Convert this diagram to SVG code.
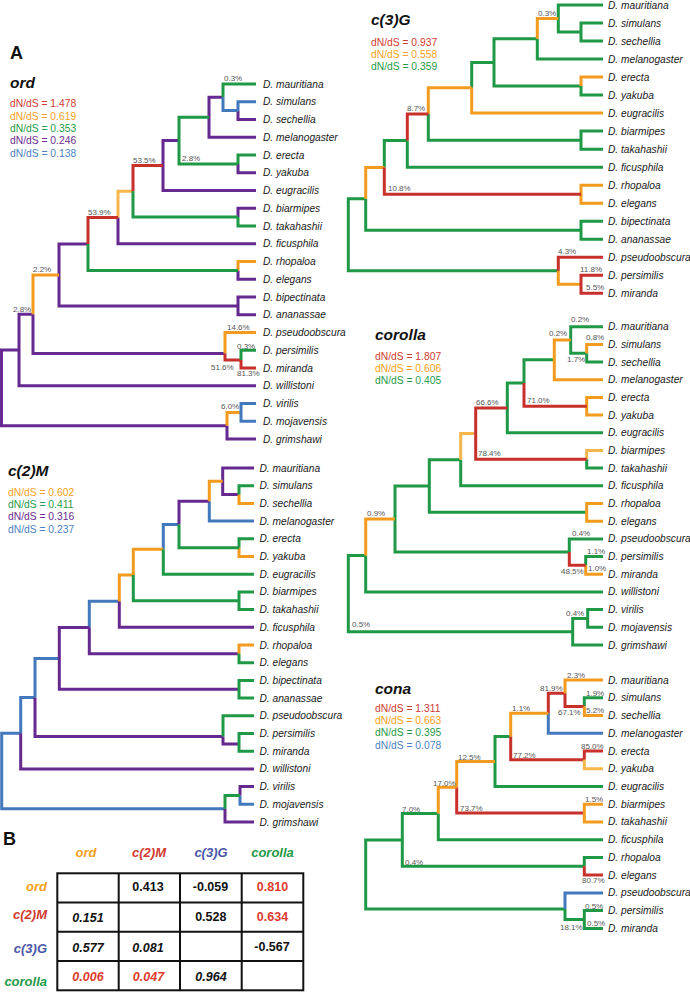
<svg xmlns="http://www.w3.org/2000/svg" width="690" height="992" viewBox="0 0 690 992">
<style>
.bg{fill:#fff}
.b{fill:none;stroke-width:3;stroke-linejoin:miter;stroke-linecap:butt}
.r{stroke:#c8302c}.o{stroke:#f39b1f}.lo{stroke:#f7b64c}.g{stroke:#1f9946}.p{stroke:#66298f}.bl{stroke:#4279bd}
text{font-family:"Liberation Sans",Arial,Helvetica,sans-serif}
.sp{font-size:10.2px;font-style:italic;fill:#1a1a1a}
.pc{font-size:8px;fill:#555}
.ti{font-size:15.5px;font-weight:bold;font-style:italic;fill:#111}
.pl{font-size:18px;font-weight:bold;fill:#111}
.lg{font-size:10.3px}
.tr{fill:#cf3a30}.to{fill:#f5a020}.tg{fill:#1f9a48}.tp{fill:#6b2c91}.tb{fill:#4a82c2}.ts{fill:#4c56a8}
.th{font-size:13px;font-weight:bold;font-style:italic}
.tv{font-size:12.5px;font-weight:bold;fill:#111;text-anchor:middle}
.it{font-style:italic}
.rv{fill:#e03a2e}
.grid{fill:none;stroke:#111;stroke-width:2}
</style>
<rect class="bg" x="0" y="0" width="690" height="992"/>

<text class="pl" x="10" y="59.3">A</text>
<text class="pl" x="3" y="845">B</text>

<!-- ================= ord ================= -->
<g id="ord-legend">
<text class="ti" x="10" y="87.5">ord</text>
<text class="lg tr" x="10" y="107.3">dN/dS = 1.478</text>
<text class="lg to" x="10" y="119.7">dN/dS = 0.619</text>
<text class="lg tg" x="10" y="132">dN/dS = 0.353</text>
<text class="lg tp" x="10" y="144.3">dN/dS = 0.246</text>
<text class="lg tb" x="10" y="156.7">dN/dS = 0.138</text>
</g>
<g id="ord-connectors">
<path class="b p" d="M1.5 387.9V350H19M1.5 387.9V425.7H227M19 350V314.2H33M19 350V385.75H256M33 314.2V353.5H225M59 275V244H88M59 275V305.9H238M238 305.9V297H256M238 305.9V314.75H256M238 270.4V279.25H256M118 217.5V243.75H256M238 217.1V208.25H256M163 165.5V140.6H179M163 165.5V190.5H256M238 163.9V172.75H256M209 117.3V97.3H223M209 117.3V137.25H256M238 110.6V119.5H256M227 425.7V439H256"/>
<path class="b o" d="M33 314.2V275H59M238 270.4V261.5H256M225 353.5V332.5H256M227 425.7V412.4H241"/>
<path class="b lo" d="M118 217.5V191.3H133"/>
<path class="b r" d="M88 244V217.5H118M133 191.3V165.5H163M225 353.5V360H241M241 360V368H256"/>
<path class="b g" d="M88 244V270.4H238M133 191.3V217.1H238M238 217.1V226H256M179 140.6V117.3H209M179 140.6V163.9H238M238 163.9V155H256M223 97.3V84H256M241 360V350.25H256"/>
<path class="b bl" d="M223 97.3V110.6H238M238 110.6V101.75H256M241 412.4V403.5H256M241 412.4V421.25H256"/>
</g>
<g id="ord-branch-labels">
<text class="pc" x="224" y="81">0.3%</text>
<text class="pc" x="182" y="161">2.8%</text>
<text class="pc" x="133" y="162.5">53.5%</text>
<text class="pc" x="88" y="215">53.9%</text>
<text class="pc" x="33" y="272">2.2%</text>
<text class="pc" x="13" y="311.5">2.8%</text>
<text class="pc" x="227" y="330">14.6%</text>
<text class="pc" x="237" y="348.5">0.3%</text>
<text class="pc" x="211" y="370">51.6%</text>
<text class="pc" x="237" y="376">81.3%</text>
<text class="pc" x="221" y="408.5">6.0%</text>
</g>
<g id="ord-leaves">
<g id="ord-mauritiana"><text class="sp" x="263" y="87.5">D. mauritiana</text></g>
<g id="ord-simulans"><text class="sp" x="263" y="105.25">D. simulans</text></g>
<g id="ord-sechellia"><text class="sp" x="263" y="123">D. sechellia</text></g>
<g id="ord-melanogaster"><text class="sp" x="263" y="140.75">D. melanogaster</text></g>
<g id="ord-erecta"><text class="sp" x="263" y="158.5">D. erecta</text></g>
<g id="ord-yakuba"><text class="sp" x="263" y="176.25">D. yakuba</text></g>
<g id="ord-eugracilis"><text class="sp" x="263" y="194">D. eugracilis</text></g>
<g id="ord-biarmipes"><text class="sp" x="263" y="211.75">D. biarmipes</text></g>
<g id="ord-takahashii"><text class="sp" x="263" y="229.5">D. takahashii</text></g>
<g id="ord-ficusphila"><text class="sp" x="263" y="247.25">D. ficusphila</text></g>
<g id="ord-rhopaloa"><text class="sp" x="263" y="265">D. rhopaloa</text></g>
<g id="ord-elegans"><text class="sp" x="263" y="282.75">D. elegans</text></g>
<g id="ord-bipectinata"><text class="sp" x="263" y="300.5">D. bipectinata</text></g>
<g id="ord-ananassae"><text class="sp" x="263" y="318.25">D. ananassae</text></g>
<g id="ord-pseudoobscura"><text class="sp" x="263" y="336">D. pseudoobscura</text></g>
<g id="ord-persimilis"><text class="sp" x="263" y="353.75">D. persimilis</text></g>
<g id="ord-miranda"><text class="sp" x="263" y="371.5">D. miranda</text></g>
<g id="ord-willistoni"><text class="sp" x="263" y="389.25">D. willistoni</text></g>
<g id="ord-virilis"><text class="sp" x="263" y="407">D. virilis</text></g>
<g id="ord-mojavensis"><text class="sp" x="263" y="424.75">D. mojavensis</text></g>
<g id="ord-grimshawi"><text class="sp" x="263" y="442.5">D. grimshawi</text></g>
</g>

<!-- ================= c(2)M ================= -->
<g id="c2m-legend">
<text class="ti" x="8" y="475.5">c(2)M</text>
<text class="lg to" x="8" y="496.3">dN/dS = 0.602</text>
<text class="lg tg" x="8" y="508.3">dN/dS = 0.411</text>
<text class="lg tp" x="8" y="520.3">dN/dS = 0.316</text>
<text class="lg tb" x="8" y="532.7">dN/dS = 0.237</text>
</g>
<g id="c2m-connectors">
<path class="b bl" d="M1.7 771V733.2H20.7M1.7 771V808.7H225M20.7 733.2V697.5H35M35 697.5V658.4H59.3M89.3 627.5V601.2H119.3M163.3 549.3V524.4H179M209.3 501.2V521.1H254M240 795.45V804.3H254"/>
<path class="b p" d="M20.7 733.2V768.9H254M35 697.5V736.5H223M59.3 658.4V627.5H89.3M59.3 658.4V689.25H239M89.3 627.5V653.85H239M119.3 601.2V627.3H254M179 524.4V501.2H209.3M222.7 481.3V468H254M222.7 481.3V494.55H239M223 736.5V744H239M225 808.7V822H254M240 795.45V786.6H254"/>
<path class="b o" d="M119.3 601.2V575H133.3M133.3 575V549.3H163.3M209.3 501.2V481.3H222.7M239 494.55V503.4H254M239 547.65V556.5H254M239 653.85V645H254"/>
<path class="b g" d="M133.3 575V600.75H239M239 600.75V591.9H254M239 600.75V609.6H254M163.3 549.3V574.2H254M179 524.4V547.65H239M239 547.65V538.8H254M239 494.55V485.7H254M239 653.85V662.7H254M239 689.25V680.4H254M239 689.25V698.1H254M223 736.5V715.8H254M239 744V733.5H254M239 744V751.2H254M225 808.7V795.45H240"/>
</g>
<g id="c2m-leaves">
<g id="c2m-mauritiana"><text class="sp" x="259.5" y="471.5">D. mauritiana</text></g>
<g id="c2m-simulans"><text class="sp" x="259.5" y="489.2">D. simulans</text></g>
<g id="c2m-sechellia"><text class="sp" x="259.5" y="506.9">D. sechellia</text></g>
<g id="c2m-melanogaster"><text class="sp" x="259.5" y="524.6">D. melanogaster</text></g>
<g id="c2m-erecta"><text class="sp" x="259.5" y="542.3">D. erecta</text></g>
<g id="c2m-yakuba"><text class="sp" x="259.5" y="560">D. yakuba</text></g>
<g id="c2m-eugracilis"><text class="sp" x="259.5" y="577.7">D. eugracilis</text></g>
<g id="c2m-biarmipes"><text class="sp" x="259.5" y="595.4">D. biarmipes</text></g>
<g id="c2m-takahashii"><text class="sp" x="259.5" y="613.1">D. takahashii</text></g>
<g id="c2m-ficusphila"><text class="sp" x="259.5" y="630.8">D. ficusphila</text></g>
<g id="c2m-rhopaloa"><text class="sp" x="259.5" y="648.5">D. rhopaloa</text></g>
<g id="c2m-elegans"><text class="sp" x="259.5" y="666.2">D. elegans</text></g>
<g id="c2m-bipectinata"><text class="sp" x="259.5" y="683.9">D. bipectinata</text></g>
<g id="c2m-ananassae"><text class="sp" x="259.5" y="701.6">D. ananassae</text></g>
<g id="c2m-pseudoobscura"><text class="sp" x="259.5" y="719.3">D. pseudoobscura</text></g>
<g id="c2m-persimilis"><text class="sp" x="259.5" y="737">D. persimilis</text></g>
<g id="c2m-miranda"><text class="sp" x="259.5" y="754.7">D. miranda</text></g>
<g id="c2m-willistoni"><text class="sp" x="259.5" y="772.4">D. willistoni</text></g>
<g id="c2m-virilis"><text class="sp" x="259.5" y="790.1">D. virilis</text></g>
<g id="c2m-mojavensis"><text class="sp" x="259.5" y="807.8">D. mojavensis</text></g>
<g id="c2m-grimshawi"><text class="sp" x="259.5" y="825.5">D. grimshawi</text></g>
</g>

<!-- ================= c(3)G ================= -->
<g id="c3g-legend">
<text class="ti" x="371" y="25">c(3)G</text>
<text class="lg tr" x="371" y="45.7">dN/dS = 0.937</text>
<text class="lg to" x="371" y="57.5">dN/dS = 0.558</text>
<text class="lg tg" x="371" y="69.7">dN/dS = 0.359</text>
</g>
<g id="c3g-connectors">
<path class="b g" d="M348.3 234.8V198.8H365.7M348.3 234.8V270.8H558.3M365.7 198.8V230.25H581M581 230.25V221.2H603M581 230.25V239.3H603M384.3 167.4V140.6H407.3M407.3 140.6V167.2H603M428.3 114V140.15H581M581 140.15V131.1H603M581 140.15V149.2H603M471.7 87.8V62.45H494M494 62.45V38.8H537.3M494 62.45V86.1H581M581 86.1V95.1H603M537.3 38.8V59.1H603M558.3 18.5V5H603M558.3 18.5V32H581M581 32V23H603M581 32V41H603"/>
<path class="b o" d="M365.7 198.8V167.4H384.3M581 194.2V185.2H603M581 194.2V203.2H603M428.3 114V87.8H471.7M471.7 87.8V113.1H603M581 86.1V77.1H603M537.3 38.8V18.5H558.3M558.3 270.8V284.3H581"/>
<path class="b r" d="M384.3 167.4V194.2H581M407.3 140.6V114H428.3M558.3 270.8V257.3H603M581 284.3V275.3H603M581 284.3V293.3H603"/>
</g>
<g id="c3g-branch-labels">
<text class="pc" x="538" y="16">0.3%</text>
<text class="pc" x="407" y="110.7">8.7%</text>
<text class="pc" x="388" y="191.3">10.8%</text>
<text class="pc" x="558" y="254">4.3%</text>
<text class="pc" x="580" y="272">11.8%</text>
<text class="pc" x="586" y="290">5.5%</text>
</g>
<g id="c3g-leaves">
<g id="c3g-mauritiana"><text class="sp" x="608" y="8.5">D. mauritiana</text></g>
<g id="c3g-simulans"><text class="sp" x="608" y="26.5">D. simulans</text></g>
<g id="c3g-sechellia"><text class="sp" x="608" y="44.5">D. sechellia</text></g>
<g id="c3g-melanogaster"><text class="sp" x="608" y="62.6">D. melanogaster</text></g>
<g id="c3g-erecta"><text class="sp" x="608" y="80.6">D. erecta</text></g>
<g id="c3g-yakuba"><text class="sp" x="608" y="98.6">D. yakuba</text></g>
<g id="c3g-eugracilis"><text class="sp" x="608" y="116.6">D. eugracilis</text></g>
<g id="c3g-biarmipes"><text class="sp" x="608" y="134.6">D. biarmipes</text></g>
<g id="c3g-takahashii"><text class="sp" x="608" y="152.7">D. takahashii</text></g>
<g id="c3g-ficusphila"><text class="sp" x="608" y="170.7">D. ficusphila</text></g>
<g id="c3g-rhopaloa"><text class="sp" x="608" y="188.7">D. rhopaloa</text></g>
<g id="c3g-elegans"><text class="sp" x="608" y="206.7">D. elegans</text></g>
<g id="c3g-bipectinata"><text class="sp" x="608" y="224.7">D. bipectinata</text></g>
<g id="c3g-ananassae"><text class="sp" x="608" y="242.8">D. ananassae</text></g>
<g id="c3g-pseudoobscura"><text class="sp" x="608" y="260.8">D. pseudoobscura</text></g>
<g id="c3g-persimilis"><text class="sp" x="608" y="278.8">D. persimilis</text></g>
<g id="c3g-miranda"><text class="sp" x="608" y="296.8">D. miranda</text></g>
</g>

<!-- ================= corolla ================= -->
<g id="corolla-legend">
<text class="ti" x="375" y="340">corolla</text>
<text class="lg tr" x="375" y="360">dN/dS = 1.807</text>
<text class="lg to" x="375" y="372.3">dN/dS = 0.606</text>
<text class="lg tg" x="375" y="384">dN/dS = 0.405</text>
</g>
<g id="corolla-connectors">
<path class="b g" d="M348.3 593.6V555.5H365.7M348.3 593.6V631.7H572.7M365.7 555.5V591.9H603M395 519.05V486H429.3M395 519.05V552.1H569.3M569.3 552.1V538.9H603M585.7 565.35V556.5H603M429.3 486V459.7H460.7M429.3 486V512.35H586.7M460.7 459.7V485.8H603M586.7 459.3V468.1H603M507.3 407.9V383H524M507.3 407.9V432.8H603M524 383V359.85H554.3M570.7 340V326.7H603M570.7 340V353.25H586.7M586.7 353.25V362.1H603M572.7 631.7V618.45H587.7M572.7 631.7V645H603M587.7 618.45V609.6H603M587.7 618.45V627.3H603"/>
<path class="b o" d="M365.7 555.5V519.05H395M586.7 512.35V503.5H603M586.7 512.35V521.2H603M585.7 565.35V574.2H603M586.7 406.25V397.4H603M586.7 406.25V415.1H603M554.3 359.85V340H570.7M554.3 359.85V379.7H603M586.7 353.25V344.4H603"/>
<path class="b lo" d="M460.7 459.7V433.6H475.7M586.7 459.3V450.5H603"/>
<path class="b r" d="M569.3 552.1V565.35H585.7M475.7 433.6V407.9H507.3M475.7 433.6V459.3H586.7M524 383V406.25H586.7"/>
</g>
<g id="corolla-branch-labels">
<text class="pc" x="571" y="322.3">0.2%</text>
<text class="pc" x="549" y="335.7">0.2%</text>
<text class="pc" x="586" y="340.3">0.8%</text>
<text class="pc" x="567" y="362">1.7%</text>
<text class="pc" x="527" y="403">71.0%</text>
<text class="pc" x="476" y="404.7">66.6%</text>
<text class="pc" x="478" y="456">78.4%</text>
<text class="pc" x="367" y="516.3">0.9%</text>
<text class="pc" x="572" y="536.3">0.4%</text>
<text class="pc" x="587" y="553.7">1.1%</text>
<text class="pc" x="561" y="573.7">48.5%</text>
<text class="pc" x="588" y="570.5">1.0%</text>
<text class="pc" x="566" y="615.7">0.4%</text>
<text class="pc" x="352" y="627">0.5%</text>
</g>
<g id="corolla-leaves">
<g id="corolla-mauritiana"><text class="sp" x="608" y="330.2">D. mauritiana</text></g>
<g id="corolla-simulans"><text class="sp" x="608" y="347.9">D. simulans</text></g>
<g id="corolla-sechellia"><text class="sp" x="608" y="365.6">D. sechellia</text></g>
<g id="corolla-melanogaster"><text class="sp" x="608" y="383.2">D. melanogaster</text></g>
<g id="corolla-erecta"><text class="sp" x="608" y="400.9">D. erecta</text></g>
<g id="corolla-yakuba"><text class="sp" x="608" y="418.6">D. yakuba</text></g>
<g id="corolla-eugracilis"><text class="sp" x="608" y="436.3">D. eugracilis</text></g>
<g id="corolla-biarmipes"><text class="sp" x="608" y="454">D. biarmipes</text></g>
<g id="corolla-takahashii"><text class="sp" x="608" y="471.6">D. takahashii</text></g>
<g id="corolla-ficusphila"><text class="sp" x="608" y="489.3">D. ficusphila</text></g>
<g id="corolla-rhopaloa"><text class="sp" x="608" y="507">D. rhopaloa</text></g>
<g id="corolla-elegans"><text class="sp" x="608" y="524.7">D. elegans</text></g>
<g id="corolla-pseudoobscura"><text class="sp" x="608" y="542.4">D. pseudoobscura</text></g>
<g id="corolla-persimilis"><text class="sp" x="608" y="560">D. persimilis</text></g>
<g id="corolla-miranda"><text class="sp" x="608" y="577.7">D. miranda</text></g>
<g id="corolla-willistoni"><text class="sp" x="608" y="595.4">D. willistoni</text></g>
<g id="corolla-virilis"><text class="sp" x="608" y="613.1">D. virilis</text></g>
<g id="corolla-mojavensis"><text class="sp" x="608" y="630.8">D. mojavensis</text></g>
<g id="corolla-grimshawi"><text class="sp" x="608" y="648.5">D. grimshawi</text></g>
</g>

<!-- ================= cona ================= -->
<g id="cona-legend">
<text class="ti" x="375" y="693.5">cona</text>
<text class="lg tr" x="375" y="711.7">dN/dS = 1.311</text>
<text class="lg to" x="375" y="724">dN/dS = 0.663</text>
<text class="lg tg" x="375" y="736.3">dN/dS = 0.395</text>
<text class="lg tb" x="375" y="749">dN/dS = 0.078</text>
</g>
<g id="cona-connectors">
<path class="b g" d="M365.7 874.5V839.9H402.3M365.7 874.5V909H565M565 909V919.5H584.3M584.3 919.5V910.6H603M584.3 919.5V928.4H603M402.3 839.9V813.5H438.3M402.3 839.9V866.25H584.3M584.3 866.25V857.4H603M438.3 813.5V839.7H603M495 761.5V736.55H510.7M495 761.5V786.4H603M584.3 706.6V697.7H603"/>
<path class="b bl" d="M565 909V892.9H603M548.3 713.25V733.2H603"/>
<path class="b r" d="M584.3 866.25V875.1H603M456.7 787.3V813.05H584.3M510.7 736.55V759.85H584.3M584.3 759.85V751H603M548.3 713.25V693.3H565M565 693.3V706.6H584.3"/>
<path class="b o" d="M438.3 813.5V787.3H456.7M456.7 787.3V761.5H495M584.3 813.05V804.2H603M584.3 813.05V821.9H603M510.7 736.55V713.25H548.3M565 693.3V680H603M584.3 706.6V715.5H603"/>
<path class="b lo" d="M584.3 759.85V768.7H603"/>
</g>
<g id="cona-branch-labels">
<text class="pc" x="567" y="677.5">2.3%</text>
<text class="pc" x="540" y="691">81.9%</text>
<text class="pc" x="586" y="695.5">1.9%</text>
<text class="pc" x="558" y="714.7">67.1%</text>
<text class="pc" x="586" y="713">5.2%</text>
<text class="pc" x="512" y="711">1.1%</text>
<text class="pc" x="581" y="749">85.0%</text>
<text class="pc" x="513" y="757.5">77.2%</text>
<text class="pc" x="458" y="759.5">12.5%</text>
<text class="pc" x="433" y="785.5">17.0%</text>
<text class="pc" x="585" y="802">1.5%</text>
<text class="pc" x="460" y="811">73.7%</text>
<text class="pc" x="402" y="811.5">7.0%</text>
<text class="pc" x="405" y="864.5">0.4%</text>
<text class="pc" x="582" y="883">80.7%</text>
<text class="pc" x="585" y="908.5">0.5%</text>
<text class="pc" x="587" y="925.5">0.5%</text>
<text class="pc" x="560" y="929.7">18.1%</text>
</g>
<g id="cona-leaves">
<g id="cona-mauritiana"><text class="sp" x="608" y="683.5">D. mauritiana</text></g>
<g id="cona-simulans"><text class="sp" x="608" y="701.2">D. simulans</text></g>
<g id="cona-sechellia"><text class="sp" x="608" y="719">D. sechellia</text></g>
<g id="cona-melanogaster"><text class="sp" x="608" y="736.7">D. melanogaster</text></g>
<g id="cona-erecta"><text class="sp" x="608" y="754.5">D. erecta</text></g>
<g id="cona-yakuba"><text class="sp" x="608" y="772.2">D. yakuba</text></g>
<g id="cona-eugracilis"><text class="sp" x="608" y="789.9">D. eugracilis</text></g>
<g id="cona-biarmipes"><text class="sp" x="608" y="807.7">D. biarmipes</text></g>
<g id="cona-takahashii"><text class="sp" x="608" y="825.4">D. takahashii</text></g>
<g id="cona-ficusphila"><text class="sp" x="608" y="843.2">D. ficusphila</text></g>
<g id="cona-rhopaloa"><text class="sp" x="608" y="860.9">D. rhopaloa</text></g>
<g id="cona-elegans"><text class="sp" x="608" y="878.6">D. elegans</text></g>
<g id="cona-pseudoobscura"><text class="sp" x="608" y="896.4">D. pseudoobscura</text></g>
<g id="cona-persimilis"><text class="sp" x="608" y="914.1">D. persimilis</text></g>
<g id="cona-miranda"><text class="sp" x="608" y="931.9">D. miranda</text></g>
</g>

<!-- ================= table B ================= -->
<g id="table">
<g id="table-grid">
<rect class="grid" x="57.3" y="873.3" width="246" height="117"/>
<path class="grid" d="M118.7 873.3V990.3M180 873.3V990.3M241.7 873.3V990.3M57.3 902.5H303.3M57.3 931.7H303.3M57.3 961H303.3"/>
</g>
<g id="table-col-headers">
<text class="th to" x="86" y="856.5" text-anchor="middle">ord</text>
<text class="th tr" x="149" y="856.5" text-anchor="middle">c(2)M</text>
<text class="th ts" x="211" y="856.5" text-anchor="middle">c(3)G</text>
<text class="th tg" x="272.5" y="856.5" text-anchor="middle">corolla</text>
</g>
<g id="table-row-headers">
<text class="th to" x="47" y="890.5" text-anchor="end">ord</text>
<text class="th tr" x="47" y="918.5" text-anchor="end">c(2)M</text>
<text class="th ts" x="47" y="953" text-anchor="end">c(3)G</text>
<text class="th tg" x="47" y="985.5" text-anchor="end">corolla</text>
</g>
<g id="table-values">
<text class="tv" x="148" y="890.7">0.413</text>
<text class="tv" x="210.5" y="890.7">-0.059</text>
<text class="tv rv" x="272.5" y="890.7">0.810</text>
<text class="tv it" x="88" y="921.5">0.151</text>
<text class="tv" x="210.8" y="920.7">0.528</text>
<text class="tv rv" x="272.5" y="920.7">0.634</text>
<text class="tv it" x="88" y="951.5">0.577</text>
<text class="tv it" x="148" y="951.5">0.081</text>
<text class="tv" x="272" y="950.5">-0.567</text>
<text class="tv it rv" x="88" y="980.7">0.006</text>
<text class="tv it rv" x="148.5" y="980.7">0.047</text>
<text class="tv it" x="211" y="980.7">0.964</text>
</g>
</g>
</svg>
